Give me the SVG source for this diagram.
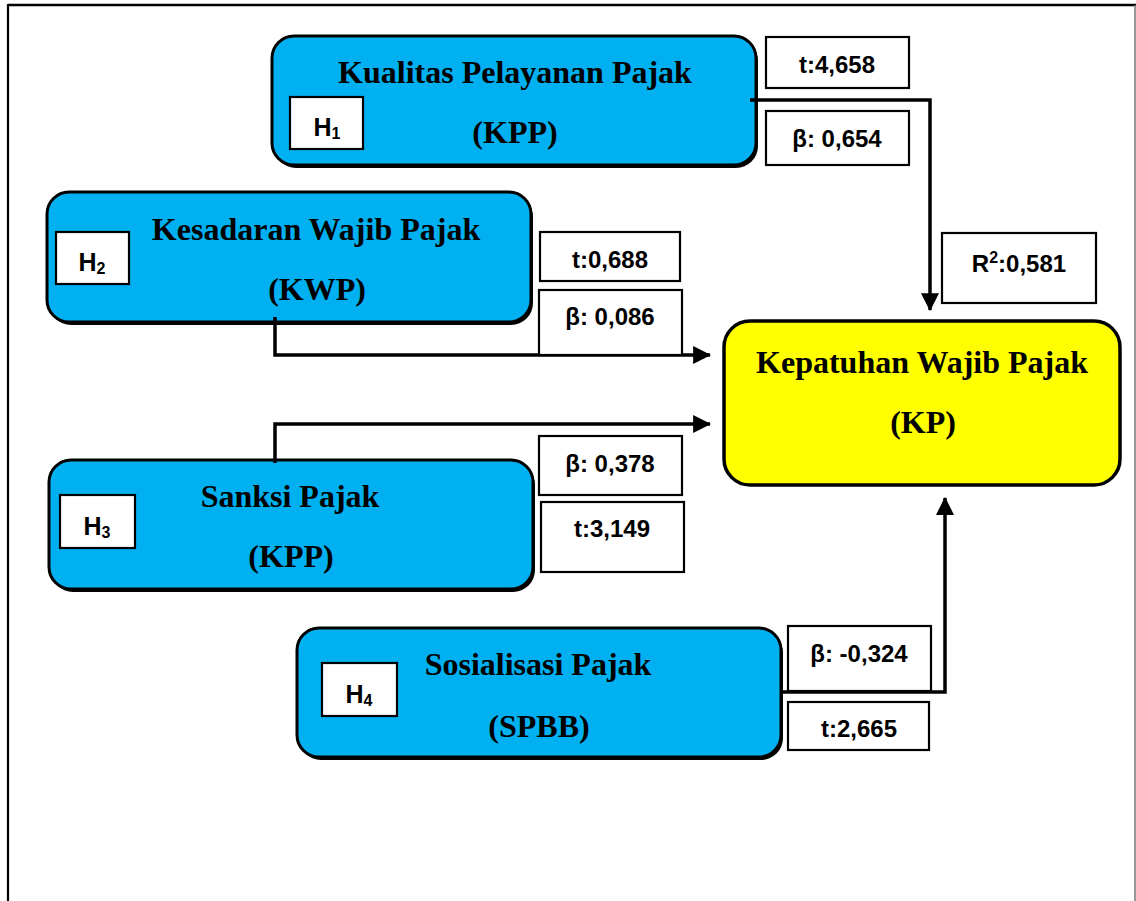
<svg xmlns="http://www.w3.org/2000/svg" width="1136" height="901" viewBox="0 0 1136 901">
<style>
.node{fill:#00B0F0;stroke:#000;stroke-width:3}
.target{fill:#FFFF00;stroke:#000;stroke-width:3.5}
.shadow{fill:#000}
.title{font-family:"Liberation Serif","Times New Roman",serif;font-weight:bold;font-size:32px;fill:#000;text-anchor:middle}
.box{fill:#fff;stroke:#000;stroke-width:2.2}
.lbl{font-family:"Liberation Sans",Arial,sans-serif;font-weight:bold;font-size:24px;fill:#000;text-anchor:middle}
.h{font-size:25px}
.sub{font-size:16px}
.conn{fill:none;stroke:#000;stroke-width:3.5}
</style>
<defs>
<marker id="arr" markerUnits="userSpaceOnUse" markerWidth="18" markerHeight="18" viewBox="0 0 16 16" refX="15" refY="8" orient="auto">
<polygon points="0,0 16,8 0,16" fill="#000"/>
</marker>
</defs>
<rect width="1136" height="901" fill="#fff"/>
<g id="frame">
<line x1="8" y1="5" x2="1136" y2="5" stroke="#000" stroke-width="2.5"/>
<line x1="8" y1="4" x2="8" y2="901" stroke="#000" stroke-width="2.2"/>
<line x1="1135" y1="5" x2="1135" y2="901" stroke="#777" stroke-width="1.5"/>
</g>

<g id="node-kpp">
<rect class="shadow" x="274" y="39" width="484" height="129" rx="22"/>
<rect class="node" x="272" y="36" width="484" height="129" rx="22"/>
<text class="title" x="515" y="83">Kualitas Pelayanan Pajak</text>
<text class="title" x="515" y="143">(KPP)</text>
<rect class="box" x="290" y="97" width="73" height="52"/>
<text class="lbl h" x="327" y="136">H<tspan class="sub" dy="3">1</tspan></text>
</g>

<g id="node-kwp">
<rect class="shadow" x="49" y="195" width="484" height="130" rx="22"/>
<rect class="node" x="47" y="192" width="484" height="130" rx="22"/>
<text class="title" x="316" y="240">Kesadaran Wajib Pajak</text>
<text class="title" x="317" y="300">(KWP)</text>
<rect class="box" x="56" y="232" width="73" height="52"/>
<text class="lbl h" x="92" y="271">H<tspan class="sub" dy="3">2</tspan></text>
</g>

<g id="node-sp">
<rect class="shadow" x="51" y="463" width="484" height="129" rx="22"/>
<rect class="node" x="49" y="460" width="484" height="129" rx="22"/>
<text class="title" x="290" y="507">Sanksi Pajak</text>
<text class="title" x="291" y="567">(KPP)</text>
<rect class="box" x="60" y="495" width="75" height="53"/>
<text class="lbl h" x="97" y="535">H<tspan class="sub" dy="3">3</tspan></text>
</g>

<g id="node-sos">
<rect class="shadow" x="299" y="631" width="484" height="129" rx="22"/>
<rect class="node" x="297" y="628" width="484" height="129" rx="22"/>
<text class="title" x="538" y="675">Sosialisasi Pajak</text>
<text class="title" x="539" y="737">(SPBB)</text>
<rect class="box" x="322" y="663" width="75" height="53"/>
<text class="lbl h" x="359" y="703">H<tspan class="sub" dy="3">4</tspan></text>
</g>

<g id="node-kp">
<rect class="target" x="724" y="321" width="396" height="164" rx="26"/>
<text class="title" x="922" y="373">Kepatuhan Wajib Pajak</text>
<text class="title" x="923" y="433">(KP)</text>
</g>

<g id="connectors">
<path class="conn" d="M750,100 H930 V310" marker-end="url(#arr)"/>
<path class="conn" d="M275,317 V355 H710" marker-end="url(#arr)"/>
<path class="conn" d="M275,463 V424 H710" marker-end="url(#arr)"/>
<path class="conn" d="M781,692 H945 V498" marker-end="url(#arr)"/>
</g>

<g id="labels">
<rect class="box" x="766" y="37" width="143" height="51"/>
<text class="lbl" x="837" y="73">t:4,658</text>
<rect class="box" x="766" y="111" width="143" height="54"/>
<text class="lbl" x="837" y="147">β: 0,654</text>
<rect class="box" x="540" y="232" width="140" height="49"/>
<text class="lbl" x="610" y="268">t:0,688</text>
<rect class="box" x="539" y="290" width="143" height="65"/>
<text class="lbl" x="610" y="325">β: 0,086</text>
<rect class="box" x="539" y="436" width="143" height="59"/>
<text class="lbl" x="610" y="472">β: 0,378</text>
<rect class="box" x="541" y="502" width="143" height="70"/>
<text class="lbl" x="612" y="537">t:3,149</text>
<rect class="box" x="788" y="626" width="143" height="65"/>
<text class="lbl" x="859" y="662">β: -0,324</text>
<rect class="box" x="788" y="702" width="141" height="48"/>
<text class="lbl" x="859" y="737">t:2,665</text>
<rect class="box" x="942" y="233" width="154" height="70"/>
<text class="lbl" x="1019" y="272">R<tspan class="sub" dy="-9">2</tspan><tspan dy="9">:0,581</tspan></text>
</g>
</svg>
